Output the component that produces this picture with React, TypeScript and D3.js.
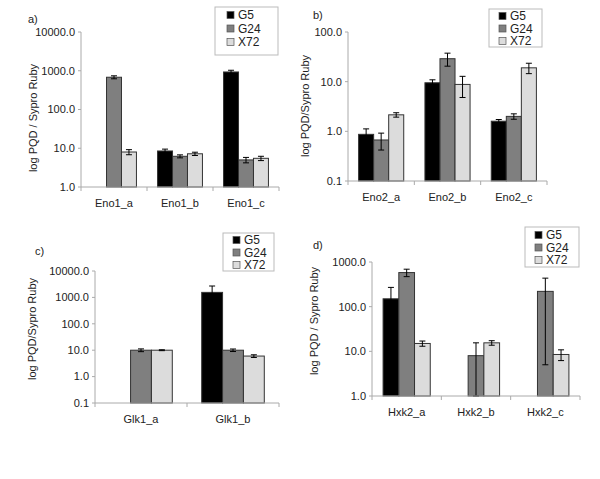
import React from "react";
import * as d3 from "d3";

const series = ["G5", "G24", "X72"];
const colors = ["#000000", "#7f7f7f", "#dcdcdc"];

const eno1Cats = ["Eno1_a", "Eno1_b", "Eno1_c"];
const eno1Vals = [[1, 680, 8], [8.5, 6.2, 7.2], [930, 5, 5.5]];
const eno1Errs = [[0, 60, 1.2], [1, 0.55, 0.7], [100, 0.8, 0.7]];
const eno1Ticks = [1, 10, 100, 1000, 10000];

const eno2Cats = ["Eno2_a", "Eno2_b", "Eno2_c"];
const eno2Vals = [[0.87, 0.67, 2.15], [9.5, 29, 8.8], [1.6, 2.0, 19]];
const eno2Errs = [[0.25, 0.25, 0.22], [1.4, 8.5, 4], [0.13, 0.25, 4.5]];
const eno2Ticks = [0.1, 1, 10, 100];

const glk1Cats = ["Glk1_a", "Glk1_b"];
const glk1Vals = [[0, 10, 10], [1550, 10, 6]];
const glk1Errs = [[0, 1.2, 0.4], [1150, 1.1, 0.7]];
const glk1Ticks = [0.1, 1, 10, 100, 1000, 10000];

const hxk2Cats = ["Hxk2_a", "Hxk2_b", "Hxk2_c"];
const hxk2Vals = [[150, 580, 15], [1, 8, 15.5], [1, 220, 8.5]];
const hxk2Errs = [[120, 110, 2], [0, 7.5, 1.8], [0, 215, 2.3]];
const hxk2Ticks = [1, 10, 100, 1000];

const font = "'Liberation Sans', Arial, sans-serif";

function Panel(props) {
  const { x0, x1, yTop, yBot, ticks, cats, vals, errs, tag, tagPos, title, titlePos, legend } = props;
  const y = d3.scaleLog().domain([ticks[0], ticks[ticks.length - 1]]).range([yBot, yTop]);
  const xb = d3.scaleBand().domain(cats).range([x0, x1]).padding(0);
  const inner = d3.scaleBand().domain(series).range([0, xb.bandwidth()]).paddingInner(0).paddingOuter(0.705);
  const bounds = cats.map((c) => xb(c)).concat([x1]);
  const bw = inner.bandwidth();
  return (
    <g fontFamily={font} fontSize={11} fill="#222">
      <text x={tagPos[0]} y={tagPos[1]}>{tag}</text>
      <text transform={`translate(${titlePos[0]},${titlePos[1]}) rotate(-90)`} textAnchor="middle">{title}</text>
      {cats.map((c, i) =>
        series.map((s, j) => {
          const v = vals[i][j];
          if (!v) return null;
          const bx = xb(c) + inner(s);
          const top = y(v);
          const h = yBot - top;
          const e = errs[i][j];
          const hiY = y(v + e);
          const loY = v - e > ticks[0] ? y(v - e) : yBot;
          const cx = bx + bw / 2;
          return (
            <g key={c + s}>
              <rect x={bx} y={top} width={bw} height={Math.max(h, 0)} fill={colors[j]}
                stroke={h > 0 ? "#333" : "#bbb"} strokeWidth={1} />
              {e > 0 && (
                <g stroke="#000" strokeWidth={1}>
                  <line x1={cx} x2={cx} y1={hiY} y2={loY} />
                  <line x1={cx - 3} x2={cx + 3} y1={hiY} y2={hiY} />
                  <line x1={cx - 3} x2={cx + 3} y1={loY} y2={loY} />
                </g>
              )}
            </g>
          );
        })
      )}
      <line x1={x0} x2={x0} y1={yTop} y2={yBot} stroke="#aaa" />
      {ticks.map((t) => (
        <g key={t}>
          <line x1={x0 - 3} x2={x0} y1={y(t)} y2={y(t)} stroke="#aaa" />
          <text x={x0 - 6} y={y(t)} dy="0.35em" textAnchor="end">{d3.format(".1f")(t)}</text>
        </g>
      ))}
      <line x1={x0} x2={x1} y1={yBot} y2={yBot} stroke="#aaa" />
      {bounds.map((b, i) => (
        <line key={i} x1={b} x2={b} y1={yBot} y2={yBot + 4} stroke="#aaa" />
      ))}
      {cats.map((c) => (
        <text key={c} x={xb(c) + xb.bandwidth() / 2} y={yBot + 20} textAnchor="middle">{c}</text>
      ))}
      <rect x={legend[0]} y={legend[1]} width={legend[2]} height={legend[3]} fill="#fff" stroke="#bbb" />
      {series.map((s, j) => (
        <g key={s}>
          <rect x={legend[0] + legend[4]} y={legend[1] + legend[5] - 3.5 + j * legend[6]} width={7} height={7}
            fill={colors[j]} stroke="#555" strokeWidth={0.7} />
          <text x={legend[0] + legend[4] + 11} y={legend[1] + legend[5] + j * legend[6]} dy="0.36em" fontSize={12}>{s}</text>
        </g>
      ))}
    </g>
  );
}

export default function App() {
  return (
    <svg width={600} height={479} style={{ display: "block", position: "absolute", left: 0, top: 0, background: "#fff" }}>
      <rect width={600} height={479} fill="#fff" />
      <Panel x0={81} x1={279} yTop={32} yBot={187} ticks={eno1Ticks} cats={eno1Cats} vals={eno1Vals} errs={eno1Errs}
        tag="a)" tagPos={[28, 23]} title="log PQD / Sypro Ruby" titlePos={[37, 118]} legend={[215, 7, 63, 48, 12, 8, 13.5]} />
      <Panel x0={348} x1={547} yTop={32} yBot={181} ticks={eno2Ticks} cats={eno2Cats} vals={eno2Vals} errs={eno2Errs}
        tag="b)" tagPos={[313, 19]} title="log PQD/Sypro Ruby" titlePos={[309, 106]} legend={[489, 9, 53, 38, 10, 7, 12.5]} />
      <Panel x0={95} x1={279} yTop={271} yBot={403} ticks={glk1Ticks} cats={glk1Cats} vals={glk1Vals} errs={glk1Errs}
        tag="c)" tagPos={[35, 255]} title="log PQD/Sypro Ruby" titlePos={[36, 329]} legend={[223, 233, 51, 38, 10, 7, 12.5]} />
      <Panel x0={372} x1={580} yTop={262} yBot={396} ticks={hxk2Ticks} cats={hxk2Cats} vals={hxk2Vals} errs={hxk2Errs}
        tag="d)" tagPos={[313, 249]} title="log PQD / Sypro Ruby" titlePos={[318, 321]} legend={[525, 227, 54, 40, 10, 8, 12.5]} />
    </svg>
  );
}
